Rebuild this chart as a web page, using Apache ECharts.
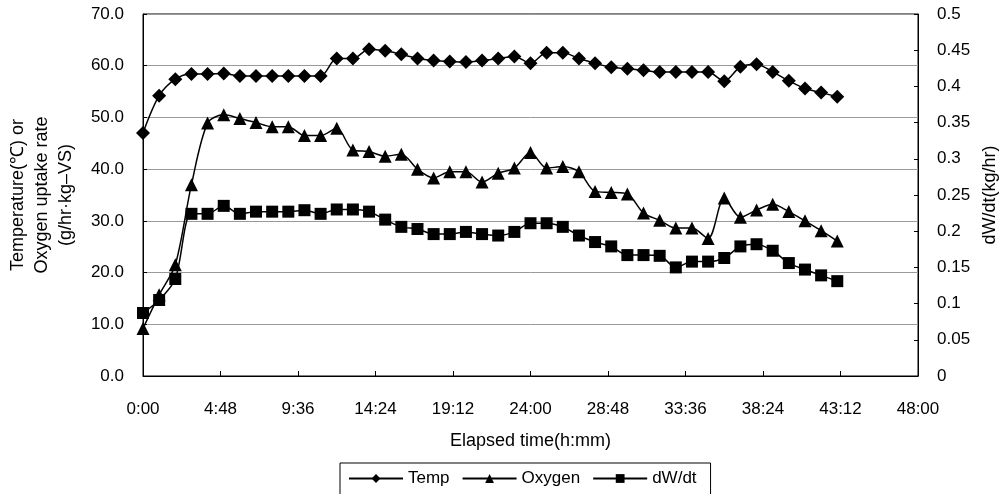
<!DOCTYPE html>
<html>
<head>
<meta charset="utf-8">
<script src="https://cdn.jsdelivr.net/npm/echarts@6/dist/echarts.min.js"></script>
<style>
html, body { margin: 0; padding: 0; background: #fff; }
#main { width: 1001px; height: 494px; }
</style>
</head>
<body>
<div id="main"></div>
<script>
// elapsed time in hours
var hours = [0, 1, 2, 3, 4, 5, 6, 7, 8, 9, 10, 11, 12, 13, 14, 15, 16, 17, 18, 19, 20, 21,
             22, 23, 24, 25, 26, 27, 28, 29, 30, 31, 32, 33, 34, 35, 36, 37, 38, 39, 40, 41, 42, 43];
// temperature (C)
var temp = [47.0, 54.2, 57.4, 58.4, 58.4, 58.5, 58.0, 58.0, 58.0, 58.0, 58.0, 58.0, 61.4, 61.4,
            63.2, 62.9, 62.2, 61.4, 61.0, 60.8, 60.7, 61.0, 61.4, 61.8, 60.5, 62.5, 62.5, 61.4,
            60.5, 59.7, 59.4, 59.1, 58.8, 58.8, 58.8, 58.8, 57.0, 59.8, 60.3, 58.8, 57.1, 55.6,
            54.8, 54.0];
// oxygen uptake rate (g/hr.kg-VS)
var oxygen = [9.2, 15.7, 21.5, 37.0, 48.9, 50.5, 49.8, 49.0, 48.2, 48.2, 46.5, 46.5, 47.9, 43.7,
              43.4, 42.5, 42.9, 40.0, 38.3, 39.5, 39.5, 37.5, 39.2, 40.2, 43.2, 40.2, 40.5, 39.5,
              35.7, 35.5, 35.2, 31.5, 30.1, 28.6, 28.6, 26.6, 34.4, 30.7, 32.1, 33.2, 31.8, 30.0,
              28.1, 26.1];
// dW/dt (kg/hr), right axis
var dwdt = [0.087, 0.105, 0.134, 0.224, 0.224, 0.235, 0.224, 0.227, 0.227, 0.227, 0.229, 0.224,
            0.230, 0.230, 0.227, 0.216, 0.206, 0.203, 0.196, 0.196, 0.199, 0.196, 0.194, 0.199,
            0.211, 0.211, 0.206, 0.194, 0.185, 0.179, 0.167, 0.167, 0.166, 0.150, 0.158, 0.158,
            0.163, 0.179, 0.182, 0.173, 0.156, 0.147, 0.139, 0.131];
var seriesNames = ['Temp', 'Oxygen', 'dW/dt'];

function pairs(ys) {
    var out = [];
    for (var i = 0; i < hours.length; i++) out.push([hours[i], ys[i]]);
    return out;
}

var font = 'Liberation Sans';
var myChart = echarts.init(document.getElementById('main'));

var option = {
    backgroundColor: '#fff',
    animation: false,
    textStyle: { fontFamily: font, color: '#000' },
    grid: {
        left: 143, right: 83, top: 14, bottom: 118,
        outerBoundsMode: 'none',
        containLabel: false,
        show: true, borderColor: '#000', borderWidth: 1
    },
    legend: {
        data: seriesNames,
        left: 340, top: 463,
        borderColor: '#000', borderWidth: 1,
        padding: [7, 14, 10, 8],
        itemGap: 12,
        itemWidth: 54, itemHeight: 11,
        textStyle: { fontSize: 17, fontFamily: font, color: '#000' }
    },
    xAxis: {
        type: 'value',
        min: 0, max: 48, interval: 4.8,
        name: 'Elapsed time(h:mm)',
        nameLocation: 'middle',
        nameGap: 56,
        nameTextStyle: { fontSize: 18, color: '#000' },
        axisLine: { lineStyle: { color: '#000' } },
        axisTick: { inside: true, length: 5, lineStyle: { color: '#000' } },
        axisLabel: {
            fontSize: 17, color: '#000', margin: 25,
            formatter: function (v) {
                var m = Math.round(v * 60);
                var mm = m % 60;
                return Math.floor(m / 60) + ':' + (mm < 10 ? '0' + mm : mm);
            }
        },
        splitLine: { show: false }
    },
    yAxis: [{
        type: 'value',
        min: 0, max: 70, interval: 10,
        name: 'Temperature(\u2103) or\nOxygen uptake rate\n(g/hr\u00b7kg\u2013VS)',
        nameLocation: 'middle',
        nameRotate: 90,
        nameGap: 65,
        nameTextStyle: { fontSize: 18, color: '#000', lineHeight: 24 },
        axisLine: { show: true, lineStyle: { color: '#000' } },
        axisTick: { show: true, inside: true, length: 4, lineStyle: { color: '#000' } },
        axisLabel: {
            fontSize: 17, color: '#000', margin: 19,
            formatter: function (v) { return v.toFixed(1); }
        },
        splitLine: { show: true, lineStyle: { color: '#9a9a9a', width: 1 } }
    }, {
        type: 'value',
        min: 0, max: 0.5, interval: 0.05,
        name: 'dW/dt(kg/hr)',
        nameLocation: 'middle',
        nameRotate: 90,
        nameGap: 63,
        nameTextStyle: { fontSize: 18, color: '#000' },
        axisLine: { show: true, lineStyle: { color: '#000' } },
        axisTick: { show: true, inside: true, length: 4, lineStyle: { color: '#000' } },
        axisLabel: {
            fontSize: 17, color: '#000', margin: 19,
            formatter: function (v) { return String(Math.round(v * 100) / 100); }
        },
        splitLine: { show: false }
    }],
    series: [{
        name: seriesNames[0],
        type: 'line',
        data: pairs(temp),
        smooth: 0.3,
        symbol: 'diamond',
        symbolSize: 14,
        itemStyle: { color: '#000' },
        lineStyle: { color: '#000', width: 1.5 }
    }, {
        name: seriesNames[1],
        type: 'line',
        data: pairs(oxygen),
        smooth: 0.3,
        symbol: 'triangle',
        symbolSize: 13,
        itemStyle: { color: '#000' },
        lineStyle: { color: '#000', width: 1.5 }
    }, {
        name: seriesNames[2],
        type: 'line',
        yAxisIndex: 1,
        data: pairs(dwdt),
        smooth: 0.3,
        symbol: 'rect',
        symbolSize: 12,
        itemStyle: { color: '#000' },
        lineStyle: { color: '#000', width: 1.5 }
    }]
};

myChart.setOption(option);

window.addEventListener('resize', function () {
    myChart.resize();
});
</script>
</body>
</html>
